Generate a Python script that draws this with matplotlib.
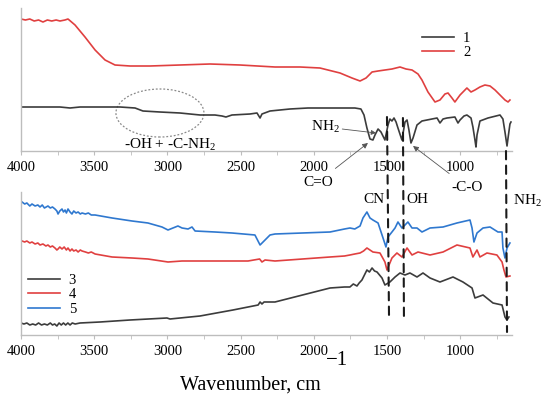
import matplotlib
matplotlib.use("Agg")
import matplotlib.pyplot as plt
from matplotlib.patches import Ellipse, ConnectionPatch
from matplotlib.ticker import MultipleLocator

plt.rcParams['font.family'] = ['Liberation Serif', 'DejaVu Serif']
plt.rcParams['mathtext.fontset'] = 'custom'
plt.rcParams['mathtext.rm'] = 'Liberation Serif'
plt.rcParams['mathtext.it'] = 'Liberation Serif:italic'

# ---------------- data (wavenumber, cm-1 ; intensity, arb. units) ----------------
wn1 = [4000, 3734, 3665, 3597, 3324, 3221, 3167, 3051, 2914, 2777, 2675, 2627, 2600, 2559,
       2436, 2388, 2367, 2354, 2299, 2163, 2040, 1821, 1719, 1678, 1657, 1637, 1616, 1596,
       1582, 1561, 1541, 1514, 1493, 1480, 1466, 1452, 1438, 1425, 1398, 1377, 1363, 1350,
       1336, 1322, 1295, 1261, 1227, 1158, 1138, 1117, 1090, 1036, 1015, 1001, 974, 954,
       926, 913, 899, 892, 885, 865, 810, 728, 708, 694, 680, 673, 660, 653]
s1 = [44, 44, 43, 44, 44, 43, 40, 39, 38, 36, 36, 35, 34, 36,
      37, 38, 33, 37, 40, 42, 43, 43, 43, 42, 36, 23, 12, 11,
      16, 22, 19, 11, 26, 32, 30, 33, 29, 23, 11, 29, 31, 21,
      8, 13, 26, 30, 31, 33, 28, 32, 33, 34, 28, 31, 35, 36,
      33, 24, 11, 4, 16, 30, 33, 36, 32, 19, 5, 13, 27, 29]

wn2 = [4000, 3970, 3940, 3910, 3880, 3850, 3820, 3790, 3760, 3734, 3700, 3679, 3631, 3563,
       3494, 3426, 3358, 3255, 3119, 2914, 2709, 2504, 2265, 2094, 1958, 1821, 1739, 1684,
       1643, 1602, 1561, 1514, 1466, 1411, 1370, 1329, 1288, 1261, 1220, 1172, 1138, 1104,
       1083, 1056, 1036, 1001, 954, 926, 899, 865, 831, 796, 762, 728, 694, 673, 660]
s2 = [132, 131, 132, 130, 131, 129, 131, 130, 131, 130, 131, 132, 126, 114,
      101, 91, 86, 85, 85, 86, 87, 86, 84, 84, 83, 78, 73, 70,
      73, 79, 80, 81, 82, 84, 82, 81, 77, 71, 59, 49, 51, 57,
      58, 53, 49, 56, 63, 59, 61, 64, 66, 65, 61, 56, 51, 49, 51]

wn3 = [4000, 3980, 3960, 3940, 3920, 3900, 3880, 3860, 3840, 3820, 3800, 3785, 3770, 3755,
       3740, 3725, 3710, 3695, 3680, 3665, 3650, 3630, 3597, 3460, 3255, 3003, 2982, 2777,
       2552, 2380, 2367, 2354, 2340, 2265, 1889, 1790, 1753, 1730, 1705, 1690, 1671, 1637,
       1620, 1602, 1585, 1568, 1534, 1514, 1480, 1445, 1411, 1377, 1343, 1295, 1254, 1206,
       1138, 1049, 981, 919, 899, 844, 776, 714, 694, 680, 667]
s3 = [12, 11, 12, 10, 11, 10, 12, 10, 11, 10, 12, 10, 11, 9,
      12, 10, 12, 10, 12, 10, 12, 11, 12, 13, 15, 17, 16, 19,
      25, 30, 33, 31, 33, 33, 47, 48, 48, 51, 49, 52, 55, 65,
      63, 67, 64, 63, 57, 50, 53, 58, 62, 60, 62, 58, 62, 57,
      53, 58, 53, 47, 37, 40, 32, 30, 18, 15, 18]

wn4 = [3993, 3975, 3960, 3940, 3925, 3904, 3885, 3870, 3850, 3830, 3816, 3800, 3785, 3768,
       3755, 3747, 3735, 3720, 3705, 3690, 3679, 3665, 3652, 3640, 3624, 3610, 3595, 3583,
       3560, 3540, 3520, 3494, 3378, 3242, 3133, 2996, 2900, 2675, 2449, 2370, 2354, 2333,
       2265, 1889, 1790, 1753, 1720, 1684, 1660, 1637, 1596, 1548, 1514, 1500, 1466, 1432,
       1398, 1363, 1329, 1288, 1206, 1117, 1022, 933, 913, 885, 865, 817, 749, 714, 701,
       687, 660]
s4 = [94, 93, 94, 92, 93, 91, 92, 90, 91, 89, 90, 88, 89, 87,
      85, 86, 88, 86, 88, 85, 87, 84, 86, 84, 85, 83, 85, 84,
      83, 82, 83, 81, 78, 77, 76, 73, 74, 74, 74, 76, 73, 75,
      74, 78, 79, 80, 81, 82, 84, 87, 83, 82, 73, 65, 77, 82,
      78, 87, 80, 83, 80, 83, 90, 87, 78, 85, 78, 82, 80, 73, 65,
      58, 59]

wn5 = [3993, 3975, 3960, 3940, 3925, 3904, 3885, 3870, 3855, 3840, 3816, 3800, 3785, 3768,
       3755, 3747, 3735, 3720, 3710, 3699, 3690, 3679, 3665, 3652, 3640, 3624, 3610, 3595,
       3583, 3560, 3540, 3520, 3494, 3378, 3242, 3133, 3037, 2996, 2928, 2900, 2859, 2832,
       2811, 2675, 2559, 2402, 2367, 2333, 2299, 2265, 1889, 1790, 1753, 1720, 1684, 1664,
       1637, 1616, 1596, 1561, 1527, 1507, 1493, 1466, 1445, 1425, 1398, 1377, 1357, 1329,
       1295, 1261, 1206, 1117, 1022, 933, 919, 906, 885, 844, 796, 742, 714, 708, 694, 680,
       660]
s5 = [133, 131, 132, 129, 131, 129, 130, 128, 130, 127, 129, 127, 128, 126,
      124, 121, 124, 126, 123, 125, 122, 126, 123, 121, 124, 122, 123, 121,
      122, 121, 122, 120, 120, 117, 114, 112, 108, 105, 109, 107, 106, 108,
      104, 103, 102, 100, 90, 95, 100, 101, 103, 106, 107, 106, 109, 117,
      123, 117, 115, 112, 97, 88, 98, 103, 107, 113, 107, 110, 113, 107,
      107, 103, 107, 108, 112, 115, 107, 93, 102, 107, 108, 103, 103, 87, 77, 87,
      92]

top_labels = ['1', '2']
bottom_labels = ['3', '4', '5']
xticks = [4000, 3500, 3000, 2500, 2000, 1500, 1000]
band_lines = [(1500, 1486), (1391, 1384), (687, 680)]

# ---------------- styling ----------------
c_black = '#3c3c3c'
c_red = '#e04040'
c_blue = '#2f78cf'
spine_c = '#bdbdbd'
lw = 1.2

fig = plt.figure(figsize=(5.5, 3.98), dpi=100)
ax1 = fig.add_axes([0.0382, 0.6206, 0.8927, 0.3593])
ax2 = fig.add_axes([0.0382, 0.1583, 0.8927, 0.3593])

for ax in (ax1, ax2):
    ax.set_xlim(4000, 646)
    ax.set_ylim(0, 143)
    for s in ('top', 'right'):
        ax.spines[s].set_visible(False)
    for s in ('left', 'bottom'):
        ax.spines[s].set_color(spine_c)
        ax.spines[s].set_linewidth(1.0)
    ax.set_yticks([])
    ax.set_xticks(xticks)
    ax.xaxis.set_minor_locator(MultipleLocator(250))
    ax.tick_params(axis='x', which='both', direction='out', length=3, color=spine_c,
                   labelsize=10.5, pad=4)
    ax.patch.set_alpha(0)

l1, = ax1.plot(wn1, s1, color=c_black, lw=lw)
l2, = ax1.plot(wn2, s2, color=c_red, lw=lw)
ax1.legend([l1, l2], top_labels, loc='upper left', bbox_to_anchor=(0.817, 0.835),
           frameon=False, fontsize=10.5, handlelength=2.2, handletextpad=0.6,
           labelspacing=0.08, borderpad=0, borderaxespad=0)

l3, = ax2.plot(wn3, s3, color=c_black, lw=lw)
l4, = ax2.plot(wn4, s4, color=c_red, lw=lw)
l5, = ax2.plot(wn5, s5, color=c_blue, lw=lw)
ax2.legend([l3, l4, l5], bottom_labels, loc='upper left', bbox_to_anchor=(0.014, 0.43),
           frameon=False, fontsize=10.5, handlelength=2.2, handletextpad=0.6,
           labelspacing=0.1, borderpad=0, borderaxespad=0)

# ---------------- annotations ----------------
ax1.add_patch(Ellipse((3051, 38), 601, 48, fill=False, ls=(0, (1.5, 1.5)),
                      edgecolor='#8a8a8a', lw=0.9, clip_on=False))
ax1.text(2982, 6, '-OH + -C-NH$_2$', fontsize=11, ha='center', va='center', clip_on=False)

ax1.annotate('NH$_2$', xy=(1575, 18), xytext=(1923, 24), fontsize=11, ha='center',
             va='center', annotation_clip=False,
             arrowprops=dict(arrowstyle='-|>', color='#555555', lw=0.6,
                             mutation_scale=7, shrinkA=0, shrinkB=0))
ax1.annotate('C=O', xy=(1630, 8), xytext=(1971, -31), fontsize=11, ha='center',
             va='center', annotation_clip=False,
             arrowprops=dict(arrowstyle='-|>', color='#555555', lw=0.6,
                             mutation_scale=8, shrinkA=5, shrinkB=0))
ax1.annotate('-C-O', xy=(1322, 5), xytext=(954, -36), fontsize=11, ha='center',
             va='center', annotation_clip=False,
             arrowprops=dict(arrowstyle='-|>', color='#555555', lw=0.6,
                             mutation_scale=8, shrinkA=5, shrinkB=0))

ax2.text(1589, 135, 'CN', fontsize=11, ha='center', va='center', clip_on=False)
ax2.text(1295, 135, 'OH', fontsize=11, ha='center', va='center', clip_on=False)
ax2.text(544, 134, 'NH$_2$', fontsize=11, ha='center', va='center', clip_on=False)

tops = [34, 33, 0]
bots = [17, 15, 3]
for (wt, wb), yt, yb in zip(band_lines, tops, bots):
    cp = ConnectionPatch(xyA=(wt, yt), coordsA=ax1.transData,
                         xyB=(wb, yb), coordsB=ax2.transData,
                         color='#1a1a1a', lw=1.5, ls=(0, (4, 3)))
    fig.add_artist(cp)

fig.text(0.327, 0.02, 'Wavenumber, cm', fontsize=14.5, ha='left', va='baseline')
fig.text(0.592, 0.082, '\u22121', fontsize=15, ha='left', va='baseline')

fig.savefig('out.png', dpi=100)
